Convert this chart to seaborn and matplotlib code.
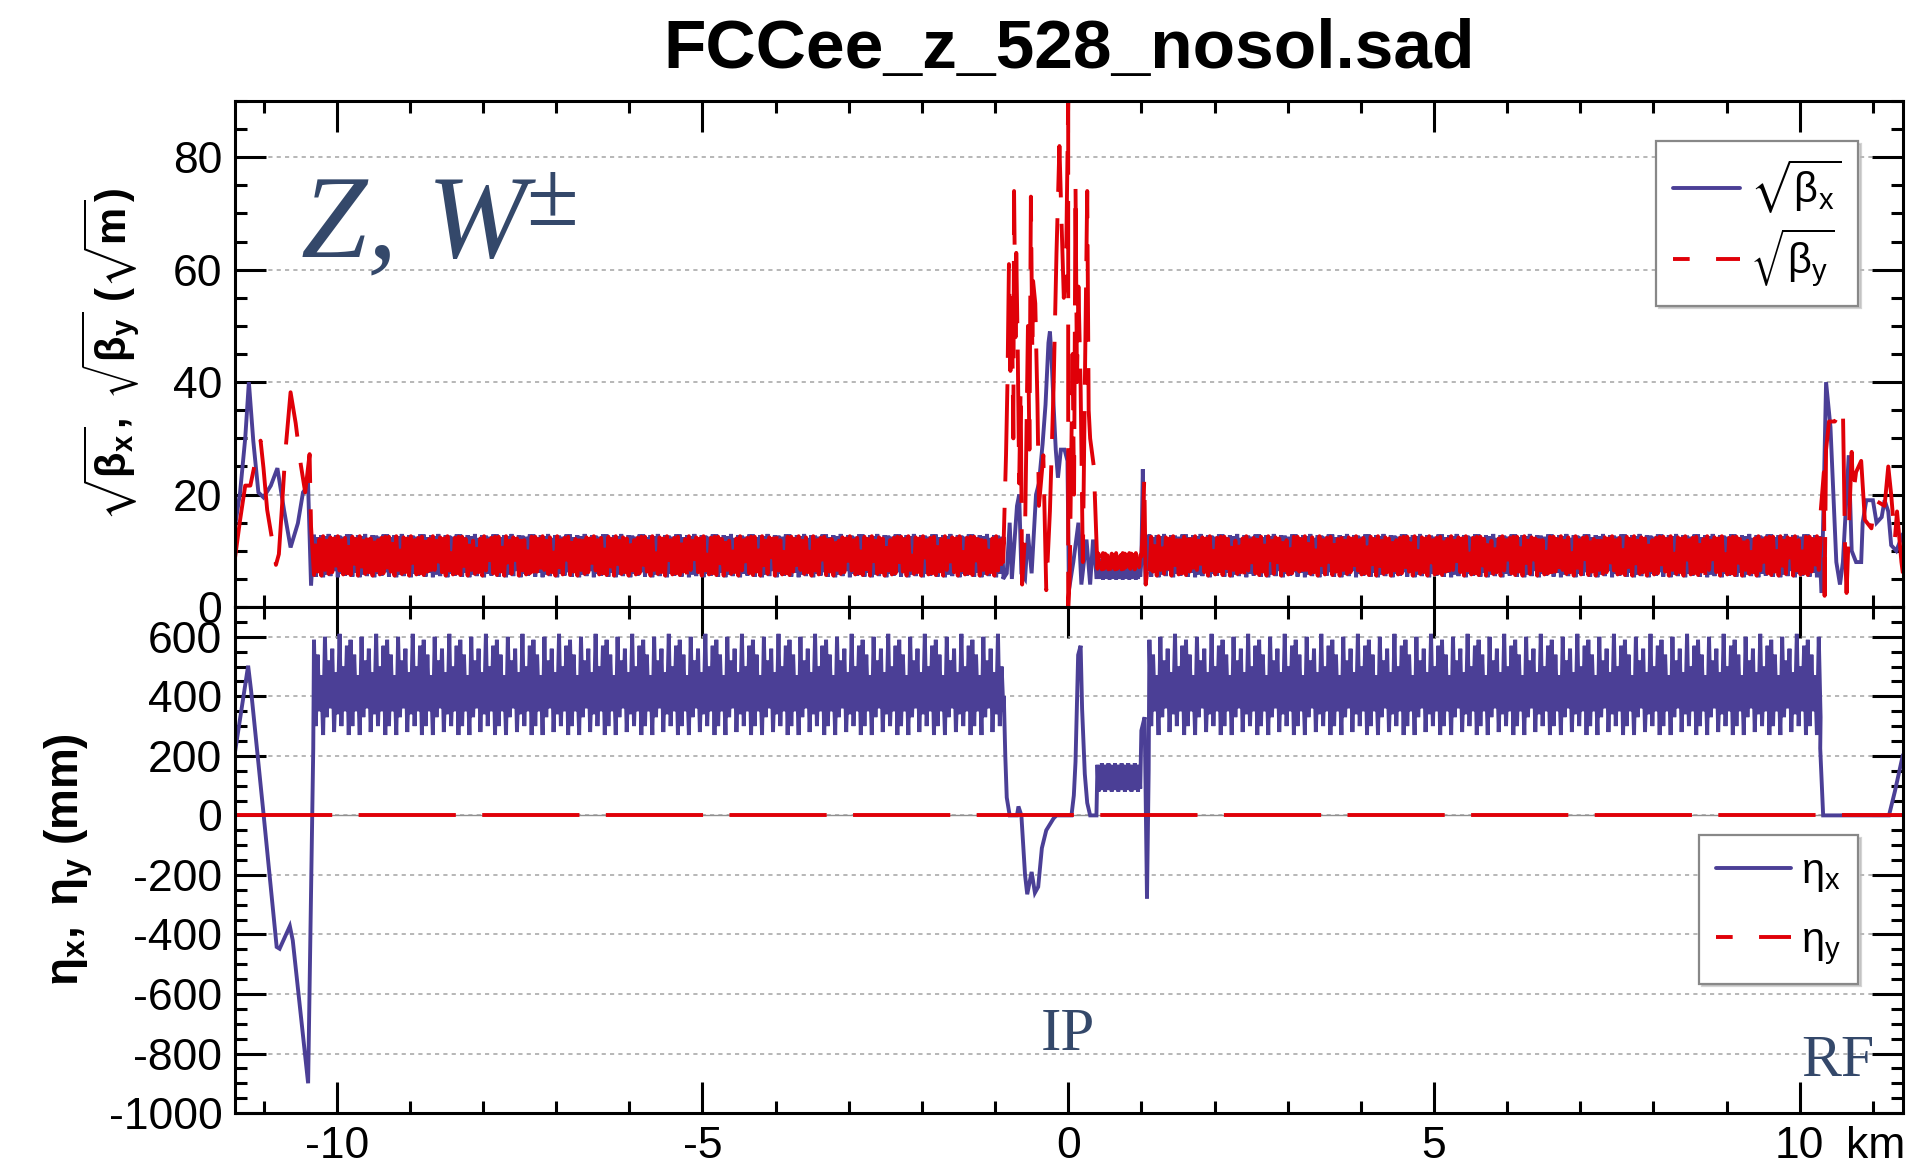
import numpy as np
import pandas as pd
import matplotlib
matplotlib.use("Agg")
import matplotlib.pyplot as plt
import seaborn as sns
from matplotlib.lines import Line2D
from matplotlib.ticker import MultipleLocator

# ---------------------------------------------
# FCCee_z_528_nosol.sad : sqrt(beta) and dispersion around the IP
# ---------------------------------------------

sns.set_style("ticks")
plt.rcParams['font.family'] = ['Liberation Sans', 'DejaVu Sans']
plt.rcParams['axes.unicode_minus'] = False
plt.rcParams['mathtext.fontset'] = 'custom'
plt.rcParams['mathtext.rm'] = 'Liberation Sans'
plt.rcParams['mathtext.it'] = 'Liberation Sans:italic'
plt.rcParams['mathtext.bf'] = 'Liberation Sans:bold'
plt.rcParams['mathtext.fallback'] = 'stixsans'
plt.rcParams['lines.scale_dashes'] = False
for key in ('text.color', 'axes.labelcolor', 'xtick.color', 'ytick.color', 'axes.edgecolor'):
    plt.rcParams[key] = 'black'

BLUE = '#4B3F96'
RED = '#E00008'
NOTE = '#34486A'

# ----------------------------
# data (km, sqrt(m), mm)
# ----------------------------
S_MIN, S_MAX = -11.39, 11.41

# left end (towards RF)
BX_LEFT_S = [-11.39, -11.32, -11.25, -11.20, -11.14, -11.07, -11.00, -10.90, -10.81, -10.72, -10.63, -10.53, -10.46, -10.39, -10.35]
BX_LEFT_V = [14.3, 20.4, 30.0, 40.0, 29.6, 20.4, 19.5, 21.6, 24.7, 17.3, 10.6, 14.9, 20.4, 21.6, 3.8]
BY_LEFT_S = [-11.39, -11.32, -11.25, -11.18, -11.11, -11.04, -11.00, -10.95, -10.88, -10.83, -10.79, -10.75, -10.70, -10.63, -10.56, -10.49, -10.43, -10.37, -10.35]
BY_LEFT_V = [8.7, 15.5, 21.6, 21.6, 26.0, 29.6, 24.7, 17.3, 11.8, 7.5, 9.4, 17.3, 27.8, 38.2, 32.7, 25.3, 20.4, 27.2, 14.3]
ETA_LEFT_S = [-11.39, -11.21, -11.17, -11.00, -10.82, -10.78, -10.64, -10.60, -10.39, -10.36, -10.34, -10.32]
ETA_LEFT_V = [212, 503, 420, 6, -442, -448, -372, -420, -900, -418, -79, 224]

# arcs: one group of FODO cells, repeated along the arc
LEFT_ARC = (-10.31, -0.89)
RIGHT_ARC = (1.11, 10.27)
ARC_CELL = 0.05
BX_ARC_HI = [12.9, 12.4, 12.8, 12.6, 13.0, 12.3, 12.8, 12.7, 12.5, 12.9]
BX_ARC_LO = [5.4, 6.1, 5.3, 5.8, 5.5, 6.4, 5.3, 5.9, 5.6, 6.2]
BY_ARC_HI = [12.5, 12.1, 12.6, 11.8, 12.4, 12.2, 12.6, 11.9, 12.3, 12.5]
BY_ARC_LO = [5.7, 6.3, 5.6, 6.6, 5.9, 6.2, 5.6, 6.5, 5.8, 6.0]
ETA_ARC_HI = [590, 540, 470, 600, 520, 560, 480, 610, 500, 570]
ETA_ARC_LO = [300, 350, 270, 330, 360, 280, 340, 300, 350, 270]

# interaction region
BX_IR_S = [-0.89, -0.84, -0.80, -0.77, -0.70, -0.67, -0.64, -0.59, -0.55, -0.50, -0.44, -0.40, -0.35, -0.31, -0.27, -0.25, -0.23, -0.20, -0.17, -0.14, -0.10, -0.05, -0.01, 0.01, 0.07, 0.14, 0.18, 0.25, 0.30, 0.34, 0.39]
BX_IR_V = [5, 6, 15, 5, 18, 20, 6, 5, 13, 6, 20, 22, 29, 36, 47, 49, 45, 36, 28, 23, 28, 28, 26, 3, 8, 15, 4, 12, 4, 12, 5]
BY_IR_S = [-0.89, -0.85, -0.83, -0.81, -0.79, -0.77, -0.75, -0.74, -0.72, -0.71, -0.69, -0.67, -0.65, -0.63, -0.59, -0.55, -0.53, -0.51, -0.49, -0.48, -0.45, -0.42, -0.40, -0.34, -0.30, -0.25, -0.20, -0.16, -0.12, -0.09, -0.06, -0.03, 0.0, 0.0, 0.02, 0.06, 0.08, 0.10, 0.12, 0.14, 0.17, 0.20, 0.23, 0.26, 0.28, 0.30, 0.35, 0.38]
BY_IR_V = [8, 27, 40, 61, 42, 55, 30, 74, 48, 63, 46, 22, 39, 4, 13, 50, 28, 73, 45, 58, 54, 36, 18, 27, 3, 17, 39, 63, 82, 68, 55, 60, 90, 0, 5, 45, 20, 75, 40, 57, 39, 8, 42, 74, 35, 30, 25, 14]
ETA_IR_S = [-0.88, -0.86, -0.84, -0.80, -0.70, -0.68, -0.64, -0.59, -0.56, -0.50, -0.455, -0.41, -0.36, -0.30, -0.20, -0.16, 0.045, 0.077, 0.10, 0.136, 0.17, 0.19, 0.227, 0.26, 0.30, 0.386]
ETA_IR_V = [400, 200, 60, 0, 0, 30, 0, -200, -265, -190, -260, -240, -110, -50, -10, 0, 0, 67, 180, 539, 570, 358, 139, 42, 0, 0]

# straight section right of the IP
STRAIGHT = (0.40, 1.00)
SS_CELL = 0.03
BX_SS_HI = [8.4, 7.9, 8.6]
BX_SS_LO = [5.0, 5.4, 4.9]
BY_SS_HI = [9.5, 9.2, 9.6]
BY_SS_LO = [6.8, 7.1, 6.7]
ETA_SS_HI = [170, 160, 175]
ETA_SS_LO = [80, 90, 85]

BX_KICK_S = [1.00, 1.02, 1.04, 1.06, 1.09]
BX_KICK_V = [8, 24.5, 12, 4, 10]
BY_KICK_S = [1.00, 1.02, 1.04, 1.06, 1.09]
BY_KICK_V = [9, 14, 23, 4, 8]
ETA_KICK_S = [1.00, 1.045, 1.077, 1.10]
ETA_KICK_V = [285, 330, -279, 150]

# right end (towards RF)
BX_RIGHT_S = [10.30, 10.36, 10.42, 10.46, 10.50, 10.55, 10.59, 10.64, 10.67, 10.71, 10.77, 10.84, 10.86, 10.91, 11.00, 11.05, 11.12, 11.16, 11.21, 11.25, 11.32, 11.41]
BX_RIGHT_V = [2.5, 40, 32, 20, 8, 4, 8, 20, 27, 10, 8, 8, 15, 19, 19, 15, 16, 19, 17, 11, 10, 13]
BY_RIGHT_S = [10.28, 10.33, 10.34, 10.36, 10.40, 10.48, 10.59, 10.62, 10.64, 10.71, 10.73, 10.77, 10.84, 10.89, 10.98, 11.03, 11.16, 11.21, 11.25, 11.30, 11.33, 11.39, 11.41]
BY_RIGHT_V = [16, 24, 2, 28, 33, 33, 35.6, 10, 2.5, 27.6, 20, 24, 26, 15.5, 14, 19, 18, 25, 20, 12, 17, 8, 6]
ETA_RIGHT_S = [10.28, 10.32, 11.22, 11.30, 11.41]
ETA_RIGHT_V = [225, 0, 0, 80, 203]

ETA_Y_S = [S_MIN, S_MAX]
ETA_Y_V = [0, 0]


def cells(span, width, hi, lo, hi_first=True):
    # one vertical swing per half cell, values taken from the pattern lists
    starts = np.arange(span[0], span[1], width)
    n = len(starts)
    h = np.resize(np.asarray(hi, float), n)
    l = np.resize(np.asarray(lo, float), n)
    s = np.column_stack([starts, starts + width / 2]).ravel()
    v = np.column_stack([h, l] if hi_first else [l, h]).ravel()
    return list(s), list(v)


def join(*parts):
    s, v = [], []
    for ps, pv in parts:
        s += list(ps)
        v += list(pv)
    return pd.DataFrame({'s': s, 'v': v})


bx = join((BX_LEFT_S, BX_LEFT_V),
          cells(LEFT_ARC, ARC_CELL, BX_ARC_HI, BX_ARC_LO, True),
          (BX_IR_S, BX_IR_V),
          cells(STRAIGHT, SS_CELL, BX_SS_HI, BX_SS_LO, True),
          (BX_KICK_S, BX_KICK_V),
          cells(RIGHT_ARC, ARC_CELL, BX_ARC_HI, BX_ARC_LO, True),
          (BX_RIGHT_S, BX_RIGHT_V))
by = join((BY_LEFT_S, BY_LEFT_V),
          cells(LEFT_ARC, ARC_CELL, BY_ARC_HI, BY_ARC_LO, False),
          (BY_IR_S, BY_IR_V),
          cells(STRAIGHT, SS_CELL, BY_SS_HI, BY_SS_LO, False),
          (BY_KICK_S, BY_KICK_V),
          cells(RIGHT_ARC, ARC_CELL, BY_ARC_HI, BY_ARC_LO, False),
          (BY_RIGHT_S, BY_RIGHT_V))
etax = join((ETA_LEFT_S, ETA_LEFT_V),
            cells(LEFT_ARC, ARC_CELL, ETA_ARC_HI, ETA_ARC_LO, True),
            (ETA_IR_S, ETA_IR_V),
            cells(STRAIGHT, SS_CELL, ETA_SS_HI, ETA_SS_LO, True),
            (ETA_KICK_S, ETA_KICK_V),
            cells(RIGHT_ARC, ARC_CELL, ETA_ARC_HI, ETA_ARC_LO, True),
            (ETA_RIGHT_S, ETA_RIGHT_V))
etay = join((ETA_Y_S, ETA_Y_V))

# ----------------------------
# figure
# ----------------------------
fig, (ax1, ax2) = plt.subplots(2, 1, sharex=True, figsize=(19.26, 11.71), dpi=100)
fig.subplots_adjust(left=0.122, right=0.988, top=0.9137, bottom=0.0495, hspace=0)

LW = 2.8
DASH = (70, 19)


def draw(ax, df, color, dashed=False):
    sns.lineplot(data=df, x='s', y='v', ax=ax, color=color, linewidth=LW,
                 estimator=None, sort=False, errorbar=None)
    line = ax.lines[-1]
    line.set_linewidth(LW)
    line.set_solid_joinstyle('miter')
    if dashed:
        line.set_dashes(DASH)
    return line


draw(ax1, bx, BLUE)
draw(ax1, by, RED, dashed=True)
ax2.axhline(0, color='#909090', lw=1.0, zorder=1)
draw(ax2, etax, BLUE)
draw(ax2, etay, RED, dashed=True)

for ax in (ax1, ax2):
    ax.set_xlim(S_MIN, S_MAX)
    ax.set_xlabel('')
    ax.xaxis.set_major_locator(MultipleLocator(5))
    ax.xaxis.set_minor_locator(MultipleLocator(1))
    ax.tick_params(which='both', direction='in', top=True, right=True,
                   width=2.2, labelsize=32)
    ax.tick_params(which='major', length=22, pad=9)
    ax.tick_params(which='minor', length=8.5)
    for sp in ax.spines.values():
        sp.set_linewidth(2.2)
    ax.yaxis.grid(True, ls=(0, (3, 3)), color='#AAAAAA', lw=1.2)
    ax.set_axisbelow(True)

ax1.set_ylim(0, 90)
ax1.yaxis.set_major_locator(MultipleLocator(20))
ax1.yaxis.set_minor_locator(MultipleLocator(5))
ax1.tick_params(labelbottom=False)
ax1.set_ylabel(r'$\mathbf{\sqrt{\beta_x},\ \sqrt{\beta_y}\ (\sqrt{m})}$', fontsize=30, labelpad=22)
ax1.set_title('FCCee_z_528_nosol.sad', fontsize=50, fontweight='bold', pad=24)

ax2.set_ylim(-1000, 700)
ax2.yaxis.set_major_locator(MultipleLocator(200))
ax2.yaxis.set_minor_locator(MultipleLocator(50))
ax2.set_xticks([-10, -5, 0, 5, 10])
ax2.set_xticklabels(['-10', '-5', '0', '5', '10'])
ax2.set_ylabel(r'$\mathbf{\eta_x,\ \eta_y\ (mm)}$', fontsize=33, labelpad=10)
ax2.annotate('km', xy=(10.63, 0), xycoords=ax2.get_xaxis_transform(),
             xytext=(0, -9), textcoords='offset points', ha='left', va='top', fontsize=32)

# legends
leg_kw = dict(loc='upper right', borderaxespad=0, fontsize=30,
              handletextpad=0.25, borderpad=0.4, fancybox=False,
              edgecolor='#888888', framealpha=1, shadow={'color': '0.72', 'alpha': 0.6})
h_solid = Line2D([], [], color=BLUE, lw=LW)
h_dash = Line2D([], [], color=RED, lw=LW, ls=(58, DASH))
l1 = ax1.legend([h_solid, h_dash], [r'$\mathrm{\sqrt{\beta_x}}$', r'$\mathrm{\sqrt{\beta_y}}$'],
                bbox_to_anchor=(0.973, 0.921), labelspacing=0.25, handlelength=1.6, **leg_kw)
l2 = ax2.legend([h_solid, h_dash], [r'$\mathrm{\eta_x}$', r'$\mathrm{\eta_y}$'],
                bbox_to_anchor=(0.973, 0.549), labelspacing=0.65, handlelength=1.8, **leg_kw)
for lg in (l1, l2):
    lg.get_frame().set_linewidth(1.6)

# annotations
ax1.text(0.0396, 0.69, 'Z, W', transform=ax1.transAxes, fontsize=86, color=NOTE,
         family='Liberation Serif', style='italic', va='baseline', ha='left')
ax1.text(0.1745, 0.80, '\u00b1', transform=ax1.transAxes, fontsize=68, color=NOTE,
         family='Liberation Serif', va='center', ha='left')
ax2.text(0, 0.154, 'IP', transform=ax2.get_xaxis_transform(), fontsize=44, color=NOTE,
         family='Liberation Serif', va='center', ha='center')
ax2.text(10.52, 0.10, 'RF', transform=ax2.get_xaxis_transform(), fontsize=43, color=NOTE,
         family='Liberation Serif', va='center', ha='center')

fig.savefig('out.png', dpi=100)
